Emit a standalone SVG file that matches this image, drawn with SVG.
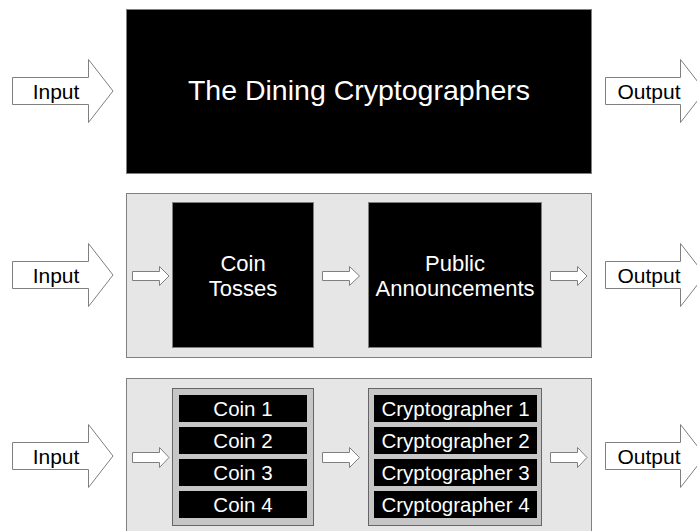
<svg xmlns="http://www.w3.org/2000/svg" width="697" height="531" viewBox="0 0 697 531">
<style>
.bg{fill:#ffffff}
.black{fill:#000000;stroke:#7f7f7f;stroke-width:1}
.panel{fill:#e6e6e6;stroke:#808080;stroke-width:1}
.inner{fill:#c6c6c6;stroke:#666666;stroke-width:1}
.bar{fill:#000000}
.arrow{fill:#ffffff;stroke:#7f7f7f;stroke-width:1}
.lbl{font-family:"Liberation Sans",Arial,sans-serif;font-size:21px;fill:#000000;text-anchor:middle}
.wt{font-family:"Liberation Sans",Arial,sans-serif;font-size:22px;fill:#ffffff;text-anchor:middle}
.bt{font-family:"Liberation Sans",Arial,sans-serif;font-size:20.5px;fill:#ffffff;text-anchor:middle}
.title{font-family:"Liberation Sans",Arial,sans-serif;font-size:28.5px;fill:#ffffff;text-anchor:middle}
</style>
<rect class="bg" x="0" y="0" width="697" height="531"/>

<g id="panel-row2"><rect class="panel" x="126.5" y="193.5" width="465" height="164"/></g>
<g id="panel-row3"><rect class="panel" x="126.5" y="378.5" width="465" height="170"/></g>

<g id="dining-cryptographers">
<rect class="black" x="126.5" y="9.5" width="465" height="164"/>
<text class="title" x="359" y="100">The Dining Cryptographers</text>
</g>

<g id="input-1">
<path class="arrow" d="M12.5,77.5 H88.5 V59.5 L113,91 L88.5,122.5 V104.5 H12.5 Z"/>
<text class="lbl" x="56" y="99">Input</text>
</g>
<g id="output-1">
<path class="arrow" d="M605.5,77.5 H680.5 V59.5 L705,91 L680.5,122.5 V104.5 H605.5 Z"/>
<text class="lbl" x="649" y="99">Output</text>
</g>

<g id="input-2">
<path class="arrow" d="M12.5,261.5 H88.5 V243.5 L113,275 L88.5,306.5 V288.5 H12.5 Z"/>
<text class="lbl" x="56" y="283">Input</text>
</g>
<g id="output-2">
<path class="arrow" d="M605.5,261.5 H680.5 V243.5 L705,275 L680.5,306.5 V288.5 H605.5 Z"/>
<text class="lbl" x="649" y="283">Output</text>
</g>

<g id="input-3">
<path class="arrow" d="M12.5,442.5 H88.5 V424.5 L113,456 L88.5,487.5 V469.5 H12.5 Z"/>
<text class="lbl" x="56" y="464">Input</text>
</g>
<g id="output-3">
<path class="arrow" d="M605.5,442.5 H680.5 V424.5 L705,456 L680.5,487.5 V469.5 H605.5 Z"/>
<text class="lbl" x="649" y="464">Output</text>
</g>

<g id="coin-tosses">
<rect class="black" x="172.5" y="202.5" width="141" height="145"/>
<text class="wt" x="243" y="271">Coin</text>
<text class="wt" x="243" y="295.5">Tosses</text>
</g>
<g id="public-announcements">
<rect class="black" x="368.5" y="202.5" width="173" height="145"/>
<text class="wt" x="455" y="271">Public</text>
<text class="wt" x="455" y="296">Announcements</text>
</g>

<g id="coins">
<rect class="inner" x="172.5" y="388.5" width="141" height="137"/>
<rect class="bar" x="179" y="395" width="128" height="27"/>
<rect class="bar" x="179" y="427" width="128" height="27"/>
<rect class="bar" x="179" y="459" width="128" height="27"/>
<rect class="bar" x="179" y="491" width="128" height="27"/>
<text class="bt" x="243" y="415.5">Coin 1</text>
<text class="bt" x="243" y="447.5">Coin 2</text>
<text class="bt" x="243" y="479.5">Coin 3</text>
<text class="bt" x="243" y="511.5">Coin 4</text>
</g>
<g id="cryptographers">
<rect class="inner" x="368.5" y="388.5" width="173" height="137"/>
<rect class="bar" x="374" y="395" width="163" height="27"/>
<rect class="bar" x="374" y="427" width="163" height="27"/>
<rect class="bar" x="374" y="459" width="163" height="27"/>
<rect class="bar" x="374" y="491" width="163" height="27"/>
<text class="bt" x="455.5" y="415.5">Cryptographer 1</text>
<text class="bt" x="455.5" y="447.5">Cryptographer 2</text>
<text class="bt" x="455.5" y="479.5">Cryptographer 3</text>
<text class="bt" x="455.5" y="511.5">Cryptographer 4</text>
</g>

<g id="connectors">
<path class="arrow" d="M132.5,271.5 H159.5 V266.5 L169,276 L159.5,285.5 V280.5 H132.5 Z"/>
<path class="arrow" d="M322.5,271.5 H349.5 V266.5 L359.5,276 L349.5,285.5 V280.5 H322.5 Z"/>
<path class="arrow" d="M550.5,271.5 H577.5 V266.5 L587,276 L577.5,285.5 V280.5 H550.5 Z"/>
<path class="arrow" d="M132.5,452.5 H159.5 V447.5 L169,457.5 L159.5,467.5 V462.5 H132.5 Z"/>
<path class="arrow" d="M322.5,452.5 H349.5 V447.5 L359.5,457.5 L349.5,467.5 V462.5 H322.5 Z"/>
<path class="arrow" d="M550.5,452.5 H577.5 V447.5 L587,457.5 L577.5,467.5 V462.5 H550.5 Z"/>
</g>
</svg>
